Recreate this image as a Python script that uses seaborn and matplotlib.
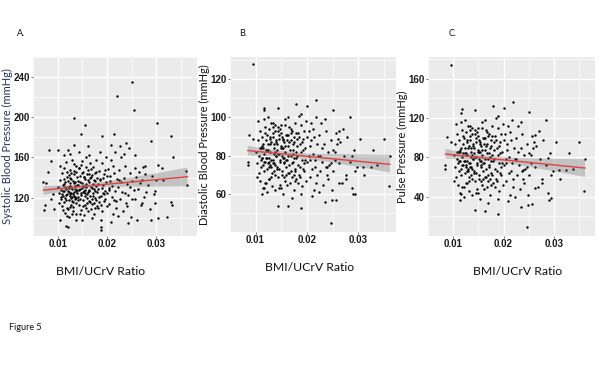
import numpy as np
import pandas as pd
import matplotlib
matplotlib.use("Agg")
import matplotlib.pyplot as plt
import seaborn as sns

# ---- Panel A: BMI/UCrV ratio vs systolic BP
ratio_a = [
    0.0250, 0.0220, 0.0254, 0.0133, 0.0301, 0.0156, 0.0190, 0.0214, 0.0148, 0.0330,
    0.0290, 0.0239, 0.0120, 0.0083, 0.0100, 0.0333, 0.0303, 0.0312, 0.0361, 0.0363,
    0.0314, 0.0299, 0.0296, 0.0298, 0.0329, 0.0332, 0.0322, 0.0290, 0.0303, 0.0260,
    0.0242, 0.0188, 0.0188, 0.0116, 0.0120, 0.0073, 0.0075, 0.0105, 0.0137, 0.0129,
    0.0257, 0.0270, 0.0279, 0.0267, 0.0276, 0.0273, 0.0257, 0.0244, 0.0227, 0.0208,
    0.0162, 0.0133, 0.0112, 0.0087, 0.0080, 0.0077, 0.0071, 0.0090, 0.0087, 0.0093,
    # 0.010 - 0.012
    0.0101, 0.0103, 0.0104, 0.0106, 0.0107, 0.0108, 0.0109, 0.0110, 0.0111, 0.0112,
    0.0113, 0.0114, 0.0115, 0.0116, 0.0117, 0.0118, 0.0119, 0.0102, 0.0105, 0.0110,
    0.0113, 0.0116, 0.0118, 0.0120, 0.0107, 0.0112, 0.0119,
    # 0.012 - 0.014
    0.0121, 0.0122, 0.0123, 0.0124, 0.0125, 0.0126, 0.0127, 0.0128, 0.0129, 0.0130,
    0.0131, 0.0132, 0.0133, 0.0134, 0.0135, 0.0136, 0.0137, 0.0138, 0.0139, 0.0122,
    0.0124, 0.0126, 0.0128, 0.0131, 0.0133, 0.0135, 0.0137, 0.0139, 0.0123, 0.0127,
    0.0130, 0.0134, 0.0136, 0.0138, 0.0125,
    # 0.014 - 0.016
    0.0141, 0.0142, 0.0143, 0.0144, 0.0145, 0.0146, 0.0147, 0.0148, 0.0149, 0.0150,
    0.0151, 0.0152, 0.0153, 0.0154, 0.0155, 0.0156, 0.0157, 0.0158, 0.0159, 0.0142,
    0.0145, 0.0148, 0.0151, 0.0154, 0.0157, 0.0159, 0.0144, 0.0150, 0.0153, 0.0156,
    # 0.016 - 0.018
    0.0161, 0.0162, 0.0163, 0.0164, 0.0165, 0.0166, 0.0167, 0.0168, 0.0169, 0.0170,
    0.0171, 0.0172, 0.0173, 0.0174, 0.0175, 0.0176, 0.0177, 0.0178, 0.0179, 0.0163,
    0.0166, 0.0169, 0.0172, 0.0175, 0.0178, 0.0170, 0.0164,
    # 0.018 - 0.020
    0.0181, 0.0183, 0.0184, 0.0186, 0.0187, 0.0189, 0.0190, 0.0192, 0.0193, 0.0195,
    0.0196, 0.0198, 0.0199, 0.0185, 0.0188, 0.0191, 0.0194, 0.0197, 0.0182, 0.0200,
    # 0.020 - 0.022
    0.0201, 0.0203, 0.0205, 0.0206, 0.0208, 0.0210, 0.0211, 0.0213, 0.0214, 0.0216,
    0.0217, 0.0219, 0.0220, 0.0204, 0.0209, 0.0212, 0.0218, 0.0207,
    # 0.022 - 0.026
    0.0222, 0.0224, 0.0226, 0.0228, 0.0230, 0.0232, 0.0234, 0.0236, 0.0238, 0.0240,
    0.0243, 0.0246, 0.0248, 0.0251, 0.0254, 0.0257, 0.0223, 0.0229, 0.0235, 0.0241,
    0.0250, 0.0258,
    # 0.026 - 0.030
    0.0262, 0.0265, 0.0268, 0.0271, 0.0275, 0.0278, 0.0283, 0.0287, 0.0292, 0.0297,
    # dense core
    0.0111, 0.0114, 0.0117, 0.0120, 0.0123, 0.0125, 0.0127, 0.0129, 0.0131, 0.0133,
    0.0135, 0.0137, 0.0139, 0.0141, 0.0143, 0.0145, 0.0147, 0.0149, 0.0151, 0.0153,
    0.0155, 0.0157, 0.0159, 0.0161, 0.0163, 0.0165, 0.0167, 0.0169, 0.0171, 0.0173,
    0.0175, 0.0177, 0.0179, 0.0181, 0.0183, 0.0185, 0.0187, 0.0189, 0.0191, 0.0193,
    0.0126, 0.0132, 0.0138, 0.0144, 0.0150, 0.0156, 0.0162, 0.0168, 0.0174, 0.0180,
    0.0119, 0.0115, 0.0121, 0.0134, 0.0146, 0.0158, 0.0164, 0.0176, 0.0195, 0.0205,
    0.0215, 0.0225, 0.0237, 0.0247, 0.0108, 0.0112, 0.0128, 0.0140, 0.0152, 0.0160,
]
systolic = [
    235, 221, 207, 199, 194, 192, 181, 183, 183, 181,
    176, 174, 167, 167, 167, 160, 153, 150, 147, 133,
    138, 138, 124, 115, 116, 113, 101, 98, 100, 98,
    95, 91, 88, 92, 91, 108, 113, 98, 98, 104,
    119, 115, 126, 135, 144, 151, 162, 169, 171, 172,
    171, 172, 162, 157, 146, 135, 136, 124, 119, 109,
    131, 125, 138, 119, 128, 145, 112, 133, 122, 150,
    127, 105, 136, 118, 129, 141, 124, 115, 152, 108,
    134, 156, 110, 131, 121, 139, 102,
    127, 143, 118, 135, 124, 148, 113, 131, 121, 158,
    137, 107, 126, 144, 119, 132, 152, 115, 128, 101,
    163, 122, 139, 111, 147, 129, 104, 141, 130, 125,
    117, 122, 136, 120, 140,
    133, 121, 150, 113, 129, 142, 108, 125, 157, 135,
    118, 146, 127, 103, 139, 122, 160, 131, 115, 137,
    119, 153, 126, 141, 110, 144, 165, 98, 132, 128,
    126, 148, 117, 136, 155, 122, 109, 141, 130, 114,
    151, 125, 138, 104, 145, 120, 158, 132, 112, 162,
    140, 119, 134, 127, 146, 100, 128,
    129, 147, 116, 138, 122, 155, 107, 133, 144, 119,
    127, 160, 112, 165, 98, 140, 124, 136, 110, 142,
    125, 149, 114, 137, 158, 121, 132, 104, 145, 127,
    165, 117, 139, 130, 96, 152, 110, 142,
    131, 148, 119, 160, 126, 107, 140, 152, 115, 134,
    123, 145, 101, 137, 128, 150, 102, 136, 163, 112,
    119, 141,
    129, 146, 113, 138, 121, 152, 133, 109, 142, 127,
    127, 131, 123, 137, 126, 132, 120, 129, 124, 135,
    121, 127, 133, 118, 128, 136, 123, 130, 112, 141,
    125, 134, 120, 138, 127, 116, 131, 143, 122, 129,
    137, 118, 126, 134, 121, 139, 113, 130, 125, 117,
    111, 116, 146, 150, 145, 113, 107, 149, 115, 140,
    146, 120, 109, 154, 104, 151, 144, 110, 148, 128,
    118, 138, 125, 131, 124, 116, 145, 125, 132, 124,
]

# ---- Panels B and C: same subjects, diastolic BP and pulse pressure
ratio_bc = [
    0.0095, 0.0218, 0.0179, 0.0200, 0.0251, 0.0117, 0.0116, 0.0143, 0.0189, 0.0284,
    0.0303, 0.0349, 0.0329, 0.0361, 0.0360, 0.0263, 0.0294, 0.0290, 0.0276, 0.0248,
    0.0257, 0.0247, 0.0189, 0.0163, 0.0143, 0.0235, 0.0085, 0.0085, 0.0088, 0.0096,
    0.0113, 0.0116, 0.0309, 0.0311, 0.0324, 0.0337, 0.0294, 0.0288, 0.0270, 0.0263,
    0.0260, 0.0254, 0.0239,
    # 0.010 - 0.012
    0.0101, 0.0103, 0.0104, 0.0106, 0.0107, 0.0108, 0.0109, 0.0110, 0.0111, 0.0112,
    0.0113, 0.0114, 0.0115, 0.0116, 0.0117, 0.0118, 0.0119, 0.0102, 0.0105, 0.0110,
    0.0113, 0.0116, 0.0118, 0.0120,
    # 0.012 - 0.014
    0.0121, 0.0122, 0.0123, 0.0124, 0.0125, 0.0126, 0.0127, 0.0128, 0.0129, 0.0130,
    0.0131, 0.0132, 0.0133, 0.0134, 0.0135, 0.0136, 0.0137, 0.0138, 0.0139, 0.0122,
    0.0124, 0.0126, 0.0128, 0.0131, 0.0133, 0.0135, 0.0137, 0.0139, 0.0123, 0.0127,
    0.0130, 0.0134, 0.0136, 0.0138,
    # 0.014 - 0.016
    0.0141, 0.0142, 0.0143, 0.0144, 0.0145, 0.0146, 0.0147, 0.0148, 0.0149, 0.0150,
    0.0151, 0.0152, 0.0153, 0.0154, 0.0155, 0.0156, 0.0157, 0.0158, 0.0159, 0.0142,
    0.0145, 0.0148, 0.0151, 0.0154, 0.0157, 0.0159, 0.0150, 0.0153, 0.0156,
    # 0.016 - 0.018
    0.0161, 0.0162, 0.0163, 0.0164, 0.0165, 0.0166, 0.0167, 0.0168, 0.0169, 0.0170,
    0.0171, 0.0172, 0.0173, 0.0174, 0.0175, 0.0176, 0.0177, 0.0178, 0.0179, 0.0163,
    0.0166, 0.0169, 0.0172, 0.0175, 0.0178, 0.0170,
    # 0.018 - 0.020
    0.0181, 0.0183, 0.0184, 0.0186, 0.0187, 0.0189, 0.0190, 0.0192, 0.0193, 0.0195,
    0.0196, 0.0198, 0.0199, 0.0185, 0.0188, 0.0191, 0.0194, 0.0197, 0.0182, 0.0200,
    # 0.020 - 0.022
    0.0201, 0.0203, 0.0205, 0.0206, 0.0207, 0.0208, 0.0210, 0.0211, 0.0213, 0.0214,
    0.0216, 0.0217, 0.0219, 0.0220, 0.0204, 0.0209, 0.0212, 0.0218,
    # 0.022 - 0.026
    0.0222, 0.0224, 0.0226, 0.0228, 0.0230, 0.0232, 0.0234, 0.0236, 0.0238, 0.0240,
    0.0243, 0.0246, 0.0248, 0.0251, 0.0254, 0.0257, 0.0223, 0.0229, 0.0235, 0.0241,
    0.0250, 0.0258,
    # 0.026 - 0.030
    0.0262, 0.0265, 0.0268, 0.0271, 0.0275, 0.0278, 0.0283, 0.0287, 0.0292, 0.0297,
    # dense core
    0.0111, 0.0114, 0.0117, 0.0120, 0.0123, 0.0125, 0.0127, 0.0129, 0.0131, 0.0133,
    0.0135, 0.0137, 0.0139, 0.0141, 0.0143, 0.0145, 0.0147, 0.0149, 0.0151, 0.0153,
    0.0155, 0.0157, 0.0159, 0.0161, 0.0163, 0.0165, 0.0167, 0.0169, 0.0171, 0.0173,
    0.0175, 0.0177, 0.0179, 0.0181, 0.0183, 0.0185, 0.0187, 0.0189, 0.0191, 0.0193,
    0.0126, 0.0132, 0.0138, 0.0144, 0.0150, 0.0156, 0.0162, 0.0168, 0.0174, 0.0180,
    0.0119, 0.0115, 0.0121, 0.0134, 0.0146, 0.0158, 0.0164, 0.0176, 0.0195, 0.0205,
    0.0215, 0.0225, 0.0237, 0.0247, 0.0108, 0.0112, 0.0128, 0.0140, 0.0152, 0.0160,
]
diastolic = [
    128, 109, 107, 106, 104, 105, 104, 105, 102, 100,
    89, 89, 83, 80, 64, 66, 60, 60, 68, 57,
    57, 45, 53, 54, 54, 56, 77, 75, 91, 89,
    60, 63, 74, 70, 74, 75, 72, 80, 94, 93,
    89, 82, 74,
    82, 76, 88, 71, 80, 93, 67, 84, 74, 90,
    79, 63, 86, 72, 81, 95, 77, 69, 98, 78,
    85, 99, 66, 83,
    79, 91, 73, 86, 76, 94, 68, 82, 75, 97,
    87, 64, 78, 92, 72, 84, 96, 70, 80, 61,
    100, 77, 89, 69, 95, 81, 62, 88, 83, 79,
    74, 76, 86, 75,
    83, 74, 93, 69, 81, 89, 65, 78, 96, 85,
    72, 90, 79, 60, 87, 76, 99, 82, 70, 86,
    73, 94, 80, 88, 67, 91, 63, 84, 77,
    78, 91, 71, 85, 95, 75, 66, 88, 80, 69,
    93, 77, 86, 62, 90, 73, 97, 82, 68, 100,
    87, 72, 83, 79, 92, 58,
    80, 92, 70, 86, 74, 96, 64, 83, 89, 72,
    78, 98, 67, 101, 60, 87, 76, 84, 66, 90,
    77, 93, 69, 85, 88, 97, 73, 81, 62, 90,
    78, 100, 70, 86, 80, 59, 94, 66,
    80, 91, 72, 97, 77, 65, 86, 93, 70, 82,
    75, 88, 62, 83, 78, 92, 61, 84, 99, 68,
    72, 86,
    76, 87, 66, 80, 70, 90, 77, 63, 83, 74,
    84, 84, 77, 88, 79, 83, 74, 86, 78, 90,
    76, 82, 87, 73, 81, 91, 77, 84, 70, 89,
    79, 85, 74, 88, 80, 71, 83, 92, 76, 81,
    87, 72, 79, 85, 75, 90, 69, 82, 78, 73,
    68, 71, 93, 95, 92, 69, 65, 94, 70, 89,
    92, 75, 66, 97, 63, 96, 91, 67, 93, 78,
    74, 80, 74, 76, 84, 79, 90, 80, 84, 78,
]
pulse = [
    174, 136, 132, 130, 126, 129, 125, 128, 122, 118,
    96, 96, 84, 78, 46, 49, 39, 37, 54, 32,
    33, 9, 23, 26, 27, 30, 72, 68, 101, 96,
    37, 43, 67, 58, 67, 68, 62, 79, 107, 103,
    96, 82, 67,
    82, 70, 94, 60, 78, 104, 52, 86, 66, 98,
    76, 44, 90, 62, 80, 108, 72, 56, 114, 74,
    88, 116, 50, 84,
    76, 100, 64, 90, 70, 106, 54, 82, 68, 112,
    92, 46, 74, 102, 62, 86, 110, 58, 78, 40,
    118, 72, 96, 56, 108, 80, 42, 94, 84, 76,
    66, 70, 90, 68,
    84, 66, 104, 56, 80, 96, 48, 74, 110, 88,
    62, 98, 76, 38, 92, 70, 116, 82, 58, 90,
    64, 106, 78, 94, 52, 100, 44, 86, 72,
    74, 100, 60, 88, 108, 68, 50, 94, 78, 56,
    104, 72, 90, 42, 98, 64, 112, 82, 54, 118,
    92, 62, 84, 76, 102, 34,
    78, 102, 58, 90, 66, 110, 46, 84, 96, 62,
    74, 114, 52, 120, 38, 92, 70, 86, 50, 98,
    72, 104, 56, 88, 94, 112, 64, 80, 42, 98,
    74, 118, 58, 90, 78, 36, 106, 50,
    78, 100, 62, 112, 72, 48, 90, 104, 58, 82,
    68, 94, 42, 84, 74, 102, 40, 86, 116, 54,
    62, 90,
    70, 92, 50, 78, 58, 98, 72, 44, 84, 66,
    86, 86, 72, 94, 76, 84, 66, 90, 74, 98,
    70, 82, 92, 64, 80, 100, 72, 86, 58, 96,
    76, 88, 66, 94, 78, 60, 84, 102, 70, 80,
    92, 62, 76, 88, 68, 98, 56, 82, 74, 64,
    54, 60, 104, 108, 102, 56, 48, 106, 58, 96,
    102, 68, 50, 112, 44, 110, 100, 52, 104, 74,
    66, 78, 66, 70, 86, 76, 98, 78, 86, 74,
]

panels = [
    dict(x=ratio_a, y=systolic, letter="A.", letter_x=0.028,
         ylabel="Systolic Blood Pressure (mmHg)", ylab_color="#243356",
         rect=[0.055, 0.371, 0.273, 0.477], xlab_x=0.41, ylab_x=-0.124,
         xlim=(0.0061, 0.0382), ylim=(82, 244.5), yticks=[120, 160, 200, 240]),
    dict(x=ratio_bc, y=diastolic, letter="B.", letter_x=0.399,
         ylabel="Diastolic Blood Pressure (mmHg)", ylab_color="#111111",
         rect=[0.383, 0.381, 0.277, 0.467], xlab_x=0.48, ylab_x=-0.118,
         xlim=(0.00715, 0.0373), ylim=(40.2, 131.5), yticks=[60, 80, 100, 120]),
    dict(x=ratio_bc, y=pulse, letter="C.", letter_x=0.748,
         ylabel="Pulse Pressure (mmHg)", ylab_color="#111111",
         rect=[0.713, 0.371, 0.278, 0.477], xlab_x=0.54, ylab_x=-0.118,
         xlim=(0.0062, 0.038), ylim=(0.3, 182), yticks=[40, 80, 120, 160]),
]

fig = plt.figure(figsize=(6, 3.75), dpi=100)
label_font = "Lato"

for p in panels:
    ax = fig.add_axes(p["rect"])
    ax.set_facecolor("#ebebeb")
    df = pd.DataFrame({"ratio": p["x"], "value": p["y"]})
    sns.scatterplot(data=df, x="ratio", y="value", ax=ax, color="black",
                    s=3, linewidth=0, zorder=3)
    sns.regplot(data=df, x="ratio", y="value", ax=ax, scatter=False,
                color="#666666", line_kws={"linewidth": 1.0, "zorder": 5})
    ax.lines[-1].set_color("#e0413f")
    ax.collections[-1].set_alpha(0.3)
    ax.collections[-1].set_zorder(4)

    ax.set_xlim(*p["xlim"])
    ax.set_ylim(*p["ylim"])
    ax.set_xticks([0.01, 0.02, 0.03])
    ax.set_xticklabels(["0.01", "0.02", "0.03"])
    ax.set_yticks(p["yticks"])
    step = p["yticks"][1] - p["yticks"][0]
    ax.set_yticks([t - step / 2 for t in p["yticks"]] + [p["yticks"][-1] + step / 2], minor=True)
    ax.set_xticks([0.005, 0.015, 0.025, 0.035], minor=True)
    ax.grid(which="major", color="white", linewidth=1.0)
    ax.grid(which="minor", color="white", linewidth=0.5)
    ax.set_axisbelow(True)
    for s in ax.spines.values():
        s.set_visible(False)
    ax.tick_params(which="major", length=1.5, width=0.6, color="#555555", pad=0.8,
                   labelsize=7.0, labelcolor="#1a1a1a")
    ax.tick_params(which="minor", length=0)
    for lab in ax.get_xticklabels() + ax.get_yticklabels():
        lab.set_fontweight("bold")
        lab.set_family("Liberation Sans")

    ax.set_xlabel("BMI/UCrV Ratio", fontsize=8.8, family=label_font, color="#111111")
    ax.xaxis.set_label_coords(p["xlab_x"], -0.17)
    ax.set_ylabel(p["ylabel"], fontsize=8.0, family=label_font, color=p["ylab_color"])
    ax.yaxis.set_label_coords(p["ylab_x"], 0.5)

    fig.text(p["letter_x"], 0.912, p["letter"], fontsize=6.5, family=label_font,
             color="#111111", va="center")

fig.text(0.015, 0.128, "Figure 5", fontsize=6.5, family=label_font, color="#111111", va="center")

fig.savefig("out.png", dpi=100)
